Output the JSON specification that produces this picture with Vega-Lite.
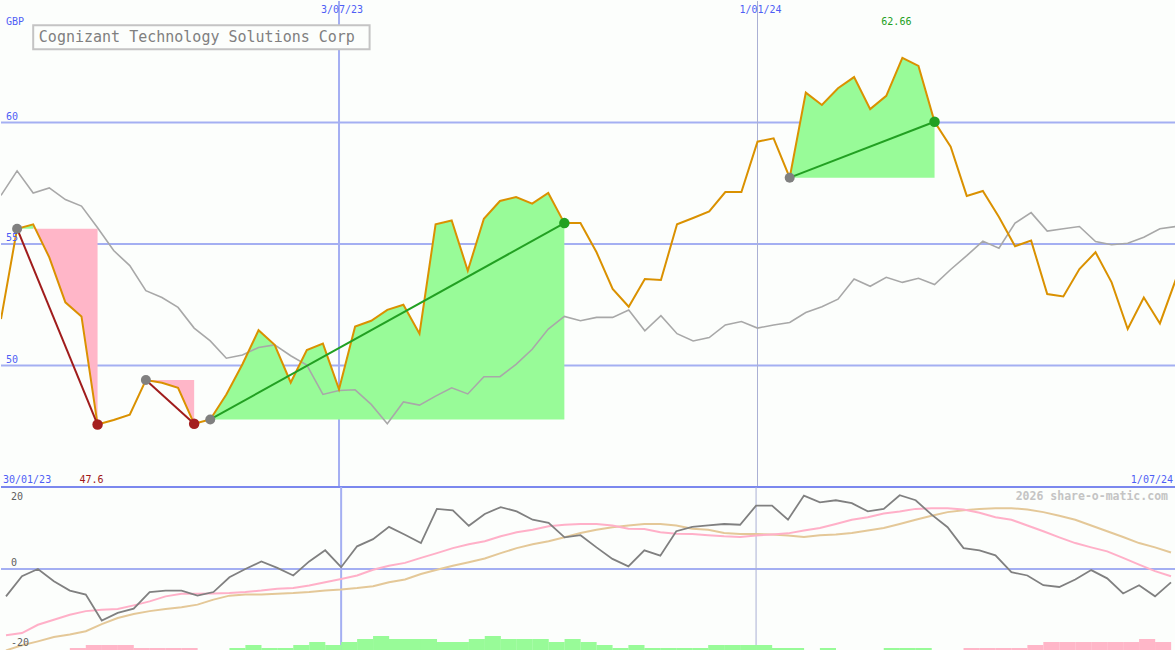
{
  "$schema": "https://vega.github.io/schema/vega-lite/v6.json",
  "background": "#fcfefc",
  "padding": 0,
  "spacing": 0,
  "bounds": "flush",
  "config": {"view": {"stroke": null}, "text": {"font": "DejaVu Sans Mono"}},
  "datasets": {
    "wk": [
      {"w":0,"p":51.91,"r":57.0,"o":-7.6,"m1":-18.4,"m2":-22.6,"vol":0,"dir":""},
      {"w":1,"p":55.63,"r":58.01,"o":-2.0,"m1":-17.8,"m2":-21.2,"vol":0,"dir":""},
      {"w":2,"p":55.81,"r":57.1,"o":0,"m1":-15.5,"m2":-20.1,"vol":0,"dir":""},
      {"w":3,"p":54.45,"r":57.31,"o":-3.4,"m1":-14.1,"m2":-18.9,"vol":0,"dir":""},
      {"w":4,"p":52.6,"r":56.83,"o":-6.0,"m1":-12.7,"m2":-18.2,"vol":1,"dir":"dn"},
      {"w":5,"p":52.02,"r":56.56,"o":-7.1,"m1":-11.7,"m2":-17.3,"vol":2,"dir":"dn"},
      {"w":6,"p":47.57,"r":55.67,"o":-14.3,"m1":-11.3,"m2":-15.3,"vol":2,"dir":"dn"},
      {"w":7,"p":47.76,"r":54.73,"o":-12.2,"m1":-11.1,"m2":-13.6,"vol":2,"dir":"dn"},
      {"w":8,"p":47.98,"r":54.11,"o":-11.0,"m1":-10.1,"m2":-12.5,"vol":1,"dir":"dn"},
      {"w":9,"p":49.4,"r":53.08,"o":-6.4,"m1":-9.0,"m2":-11.7,"vol":1,"dir":"dn"},
      {"w":10,"p":49.29,"r":52.8,"o":-6.0,"m1":-7.6,"m2":-11.1,"vol":1,"dir":"dn"},
      {"w":11,"p":49.08,"r":52.39,"o":-6.0,"m1":-6.9,"m2":-10.6,"vol":1,"dir":"dn"},
      {"w":12,"p":47.6,"r":51.54,"o":-7.4,"m1":-6.9,"m2":-9.9,"vol":0,"dir":""},
      {"w":13,"p":47.78,"r":51.01,"o":-6.4,"m1":-6.8,"m2":-8.5,"vol":0,"dir":""},
      {"w":14,"p":48.81,"r":50.3,"o":-2.3,"m1":-6.7,"m2":-7.4,"vol":1,"dir":"up"},
      {"w":15,"p":50.05,"r":50.43,"o":0,"m1":-6.4,"m2":-7.1,"vol":2,"dir":"up"},
      {"w":16,"p":51.45,"r":50.74,"o":2.1,"m1":-6.0,"m2":-7.1,"vol":1,"dir":"up"},
      {"w":17,"p":50.85,"r":50.85,"o":0.3,"m1":-5.5,"m2":-6.9,"vol":1,"dir":"up"},
      {"w":18,"p":49.3,"r":50.4,"o":-1.8,"m1":-5.3,"m2":-6.7,"vol":2,"dir":"up"},
      {"w":19,"p":50.64,"r":50.02,"o":2.1,"m1":-4.6,"m2":-6.4,"vol":3,"dir":"up"},
      {"w":20,"p":50.9,"r":48.81,"o":5.2,"m1":-3.7,"m2":-6.0,"vol":2,"dir":"up"},
      {"w":21,"p":49.02,"r":48.97,"o":0.5,"m1":-2.8,"m2":-5.7,"vol":3,"dir":"up"},
      {"w":22,"p":51.6,"r":49.0,"o":6.3,"m1":-1.8,"m2":-5.3,"vol":4,"dir":"up"},
      {"w":23,"p":51.84,"r":48.4,"o":8.3,"m1":-0.2,"m2":-4.8,"vol":5,"dir":"up"},
      {"w":24,"p":52.29,"r":47.6,"o":11.7,"m1":0.9,"m2":-3.7,"vol":4,"dir":"up"},
      {"w":25,"p":52.5,"r":48.5,"o":9.5,"m1":1.7,"m2":-2.9,"vol":4,"dir":"up"},
      {"w":26,"p":51.31,"r":48.37,"o":7.2,"m1":3.1,"m2":-1.4,"vol":4,"dir":"up"},
      {"w":27,"p":55.81,"r":48.74,"o":16.7,"m1":4.4,"m2":-0.2,"vol":3,"dir":"up"},
      {"w":28,"p":55.97,"r":49.08,"o":16.3,"m1":5.8,"m2":0.9,"vol":3,"dir":"up"},
      {"w":29,"p":53.9,"r":48.83,"o":12.0,"m1":6.9,"m2":1.9,"vol":4,"dir":"up"},
      {"w":30,"p":56.04,"r":49.54,"o":15.3,"m1":7.7,"m2":2.9,"vol":5,"dir":"up"},
      {"w":31,"p":56.77,"r":49.54,"o":17.2,"m1":9.1,"m2":4.4,"vol":4,"dir":"up"},
      {"w":32,"p":56.93,"r":50.05,"o":16.0,"m1":10.2,"m2":5.8,"vol":4,"dir":"up"},
      {"w":33,"p":56.66,"r":50.67,"o":13.7,"m1":10.9,"m2":6.9,"vol":4,"dir":"up"},
      {"w":34,"p":57.1,"r":51.5,"o":12.8,"m1":11.9,"m2":7.7,"vol":3,"dir":"up"},
      {"w":35,"p":55.86,"r":52.02,"o":8.8,"m1":12.3,"m2":8.8,"vol":4,"dir":"up"},
      {"w":36,"p":55.86,"r":51.84,"o":9.4,"m1":12.5,"m2":10.0,"vol":3,"dir":"up"},
      {"w":37,"p":54.66,"r":51.98,"o":6.0,"m1":12.5,"m2":10.9,"vol":2,"dir":"up"},
      {"w":38,"p":53.15,"r":51.98,"o":2.8,"m1":12.1,"m2":11.6,"vol":1,"dir":"up"},
      {"w":39,"p":52.42,"r":52.28,"o":0.75,"m1":11.2,"m2":12.1,"vol":2,"dir":"up"},
      {"w":40,"p":53.56,"r":51.43,"o":5.2,"m1":11.1,"m2":12.5,"vol":1,"dir":"up"},
      {"w":41,"p":53.52,"r":52.05,"o":3.7,"m1":10.2,"m2":12.5,"vol":1,"dir":"up"},
      {"w":42,"p":55.81,"r":51.31,"o":10.5,"m1":9.8,"m2":12.1,"vol":1,"dir":"up"},
      {"w":43,"p":56.07,"r":51.01,"o":11.7,"m1":9.7,"m2":11.2,"vol":1,"dir":"up"},
      {"w":44,"p":56.34,"r":51.15,"o":12.1,"m1":9.4,"m2":10.9,"vol":2,"dir":"up"},
      {"w":45,"p":57.14,"r":51.67,"o":12.5,"m1":9.1,"m2":10.0,"vol":2,"dir":"up"},
      {"w":46,"p":57.14,"r":51.81,"o":12.3,"m1":8.9,"m2":9.7,"vol":2,"dir":"up"},
      {"w":47,"p":59.21,"r":51.54,"o":17.6,"m1":9.3,"m2":9.7,"vol":2,"dir":"up"},
      {"w":48,"p":59.35,"r":51.67,"o":17.6,"m1":9.6,"m2":9.6,"vol":1,"dir":"up"},
      {"w":49,"p":57.73,"r":51.77,"o":13.7,"m1":9.9,"m2":9.3,"vol":1,"dir":"up"},
      {"w":50,"p":61.23,"r":52.18,"o":20.4,"m1":10.7,"m2":8.9,"vol":0,"dir":""},
      {"w":51,"p":60.72,"r":52.42,"o":18.5,"m1":11.4,"m2":9.4,"vol":1,"dir":"up"},
      {"w":52,"p":61.41,"r":52.73,"o":19.1,"m1":12.5,"m2":9.6,"vol":0,"dir":""},
      {"w":53,"p":61.87,"r":53.56,"o":18.3,"m1":13.7,"m2":10.0,"vol":0,"dir":""},
      {"w":54,"p":60.55,"r":53.26,"o":16.0,"m1":14.4,"m2":10.7,"vol":0,"dir":""},
      {"w":55,"p":61.1,"r":53.63,"o":16.7,"m1":15.4,"m2":11.4,"vol":1,"dir":"up"},
      {"w":56,"p":62.66,"r":53.42,"o":20.5,"m1":16.0,"m2":12.5,"vol":1,"dir":"up"},
      {"w":57,"p":62.33,"r":53.59,"o":19.1,"m1":16.7,"m2":13.7,"vol":1,"dir":"up"},
      {"w":58,"p":60.03,"r":53.33,"o":15.1,"m1":16.9,"m2":14.8,"vol":0,"dir":""},
      {"w":59,"p":59.0,"r":53.95,"o":11.6,"m1":16.9,"m2":15.8,"vol":0,"dir":""},
      {"w":60,"p":56.98,"r":54.52,"o":5.8,"m1":16.5,"m2":16.3,"vol":1,"dir":"dn"},
      {"w":61,"p":57.18,"r":55.12,"o":5.2,"m1":15.6,"m2":16.7,"vol":1,"dir":"dn"},
      {"w":62,"p":56.11,"r":54.83,"o":3.8,"m1":14.4,"m2":16.9,"vol":1,"dir":"dn"},
      {"w":63,"p":54.91,"r":55.86,"o":-0.9,"m1":13.7,"m2":16.9,"vol":1,"dir":"dn"},
      {"w":64,"p":55.14,"r":56.29,"o":-1.8,"m1":12.1,"m2":16.5,"vol":2,"dir":"dn"},
      {"w":65,"p":52.94,"r":55.53,"o":-4.5,"m1":10.5,"m2":15.8,"vol":3,"dir":"dn"},
      {"w":66,"p":52.84,"r":55.63,"o":-5.0,"m1":8.8,"m2":14.8,"vol":3,"dir":"dn"},
      {"w":67,"p":53.97,"r":55.72,"o":-2.9,"m1":7.2,"m2":13.7,"vol":3,"dir":"dn"},
      {"w":68,"p":54.66,"r":55.1,"o":-0.3,"m1":6.0,"m2":12.1,"vol":3,"dir":"dn"},
      {"w":69,"p":53.42,"r":54.97,"o":-2.6,"m1":4.9,"m2":10.5,"vol":3,"dir":"dn"},
      {"w":70,"p":51.5,"r":55.03,"o":-6.8,"m1":3.1,"m2":8.9,"vol":3,"dir":"dn"},
      {"w":71,"p":52.8,"r":55.28,"o":-4.5,"m1":1.2,"m2":7.2,"vol":4,"dir":"dn"},
      {"w":72,"p":51.73,"r":55.63,"o":-7.6,"m1":-0.6,"m2":6.0,"vol":3,"dir":"dn"},
      {"w":73,"p":53.56,"r":55.72,"o":-3.7,"m1":-2.0,"m2":4.6,"vol":0,"dir":""}
    ],
    "fill": [
      {"g":"a","k":"gain","w":1,"p":55.63,"b":55.63},
      {"g":"a","k":"gain","w":2,"p":55.81,"b":55.63},
      {"g":"b","k":"loss","w":2,"p":55.81,"b":55.63},
      {"g":"b","k":"loss","w":3,"p":54.45,"b":55.63},
      {"g":"b","k":"loss","w":4,"p":52.6,"b":55.63},
      {"g":"b","k":"loss","w":5,"p":52.02,"b":55.63},
      {"g":"b","k":"loss","w":6,"p":47.57,"b":55.63},
      {"g":"c","k":"loss","w":9,"p":49.4,"b":49.4},
      {"g":"c","k":"loss","w":10,"p":49.29,"b":49.4},
      {"g":"c","k":"loss","w":11,"p":49.08,"b":49.4},
      {"g":"c","k":"loss","w":12,"p":47.6,"b":49.4},
      {"g":"d","k":"gain","w":13,"p":47.78,"b":47.78},
      {"g":"d","k":"gain","w":14,"p":48.81,"b":47.78},
      {"g":"d","k":"gain","w":15,"p":50.05,"b":47.78},
      {"g":"d","k":"gain","w":16,"p":51.45,"b":47.78},
      {"g":"d","k":"gain","w":17,"p":50.85,"b":47.78},
      {"g":"d","k":"gain","w":18,"p":49.3,"b":47.78},
      {"g":"d","k":"gain","w":19,"p":50.64,"b":47.78},
      {"g":"d","k":"gain","w":20,"p":50.9,"b":47.78},
      {"g":"d","k":"gain","w":21,"p":49.02,"b":47.78},
      {"g":"d","k":"gain","w":22,"p":51.6,"b":47.78},
      {"g":"d","k":"gain","w":23,"p":51.84,"b":47.78},
      {"g":"d","k":"gain","w":24,"p":52.29,"b":47.78},
      {"g":"d","k":"gain","w":25,"p":52.5,"b":47.78},
      {"g":"d","k":"gain","w":26,"p":51.31,"b":47.78},
      {"g":"d","k":"gain","w":27,"p":55.81,"b":47.78},
      {"g":"d","k":"gain","w":28,"p":55.97,"b":47.78},
      {"g":"d","k":"gain","w":29,"p":53.9,"b":47.78},
      {"g":"d","k":"gain","w":30,"p":56.04,"b":47.78},
      {"g":"d","k":"gain","w":31,"p":56.77,"b":47.78},
      {"g":"d","k":"gain","w":32,"p":56.93,"b":47.78},
      {"g":"d","k":"gain","w":33,"p":56.66,"b":47.78},
      {"g":"d","k":"gain","w":34,"p":57.1,"b":47.78},
      {"g":"d","k":"gain","w":35,"p":55.86,"b":47.78},
      {"g":"e","k":"gain","w":49,"p":57.73,"b":57.73},
      {"g":"e","k":"gain","w":50,"p":61.23,"b":57.73},
      {"g":"e","k":"gain","w":51,"p":60.72,"b":57.73},
      {"g":"e","k":"gain","w":52,"p":61.41,"b":57.73},
      {"g":"e","k":"gain","w":53,"p":61.87,"b":57.73},
      {"g":"e","k":"gain","w":54,"p":60.55,"b":57.73},
      {"g":"e","k":"gain","w":55,"p":61.1,"b":57.73},
      {"g":"e","k":"gain","w":56,"p":62.66,"b":57.73},
      {"g":"e","k":"gain","w":57,"p":62.33,"b":57.73},
      {"g":"e","k":"gain","w":58,"p":60.03,"b":57.73}
    ],
    "tr": [
      {"g":1,"k":"loss","role":"start","w":1,"p":55.63},
      {"g":1,"k":"loss","role":"end","w":6,"p":47.57},
      {"g":2,"k":"loss","role":"start","w":9,"p":49.4},
      {"g":2,"k":"loss","role":"end","w":12,"p":47.6},
      {"g":3,"k":"gain","role":"start","w":13,"p":47.78},
      {"g":3,"k":"gain","role":"end","w":35,"p":55.86},
      {"g":4,"k":"gain","role":"start","w":49,"p":57.73},
      {"g":4,"k":"gain","role":"end","w":58,"p":60.03}
    ]
  },
  "vconcat": [
    {
      "width": 1175,
      "height": 486,
      "layer": [
        {
          "data": {"values": [{"v":50},{"v":55},{"v":60}]},
          "mark": {"type": "rule", "color": "#a4aff2", "strokeWidth": 2},
          "encoding": {"y": {"field": "v", "type": "quantitative", "scale": {"domain": [45, 65], "nice": false, "zero": false}, "axis": null}}
        },
        {
          "data": {"values": [{"w":21}]},
          "mark": {"type": "rule", "color": "#a4aff2", "strokeWidth": 2},
          "encoding": {"x": {"field": "w", "type": "quantitative", "scale": {"domain": [0, 73], "nice": false, "zero": false}, "axis": null}}
        },
        {
          "data": {"values": [{"w":47}]},
          "mark": {"type": "rule", "color": "#aab0d4", "strokeWidth": 1},
          "encoding": {"x": {"field": "w", "type": "quantitative", "scale": {"domain": [0, 73], "nice": false, "zero": false}, "axis": null}}
        },
        {
          "data": {"name": "fill"},
          "transform": [{"filter": "datum.k == 'gain'"}],
          "mark": {"type": "area", "color": "#98fb98", "opacity": 1, "clip": true},
          "encoding": {
            "x": {"field": "w", "type": "quantitative", "scale": {"domain": [0, 73], "nice": false, "zero": false}, "axis": null},
            "y": {"field": "p", "type": "quantitative", "scale": {"domain": [45, 65], "nice": false, "zero": false}, "axis": null},
            "y2": {"field": "b"},
            "detail": {"field": "g"}
          }
        },
        {
          "data": {"name": "fill"},
          "transform": [{"filter": "datum.k == 'loss'"}],
          "mark": {"type": "area", "color": "#ffb6c8", "opacity": 1, "clip": true},
          "encoding": {
            "x": {"field": "w", "type": "quantitative", "scale": {"domain": [0, 73], "nice": false, "zero": false}, "axis": null},
            "y": {"field": "p", "type": "quantitative", "scale": {"domain": [45, 65], "nice": false, "zero": false}, "axis": null},
            "y2": {"field": "b"},
            "detail": {"field": "g"}
          }
        },
        {
          "data": {"values": [{"v":45}]},
          "mark": {"type": "rule", "color": "#7b88ee", "strokeWidth": 2},
          "encoding": {"y": {"field": "v", "type": "quantitative", "scale": {"domain": [45, 65], "nice": false, "zero": false}, "axis": null}}
        },
        {
          "data": {"name": "wk"},
          "mark": {"type": "line", "color": "#a8a8a8", "strokeWidth": 1.6, "clip": true},
          "encoding": {
            "x": {"field": "w", "type": "quantitative", "scale": {"domain": [0, 73], "nice": false, "zero": false}, "axis": null},
            "y": {"field": "r", "type": "quantitative", "scale": {"domain": [45, 65], "nice": false, "zero": false}, "axis": null}
          }
        },
        {
          "data": {"name": "wk"},
          "mark": {"type": "line", "color": "#da9100", "strokeWidth": 2, "clip": true},
          "encoding": {
            "x": {"field": "w", "type": "quantitative", "scale": {"domain": [0, 73], "nice": false, "zero": false}, "axis": null},
            "y": {"field": "p", "type": "quantitative", "scale": {"domain": [45, 65], "nice": false, "zero": false}, "axis": null}
          }
        },
        {
          "data": {"name": "tr"},
          "transform": [{"filter": "datum.k == 'loss'"}],
          "mark": {"type": "line", "color": "#a01c1c", "strokeWidth": 2},
          "encoding": {
            "x": {"field": "w", "type": "quantitative", "scale": {"domain": [0, 73], "nice": false, "zero": false}, "axis": null},
            "y": {"field": "p", "type": "quantitative", "scale": {"domain": [45, 65], "nice": false, "zero": false}, "axis": null},
            "detail": {"field": "g"}
          }
        },
        {
          "data": {"name": "tr"},
          "transform": [{"filter": "datum.k == 'gain'"}],
          "mark": {"type": "line", "color": "#22a022", "strokeWidth": 2},
          "encoding": {
            "x": {"field": "w", "type": "quantitative", "scale": {"domain": [0, 73], "nice": false, "zero": false}, "axis": null},
            "y": {"field": "p", "type": "quantitative", "scale": {"domain": [45, 65], "nice": false, "zero": false}, "axis": null},
            "detail": {"field": "g"}
          }
        },
        {
          "data": {"name": "tr"},
          "transform": [{"filter": "datum.role == 'start'"}],
          "mark": {"type": "circle", "color": "#808080", "size": 100, "opacity": 1},
          "encoding": {
            "x": {"field": "w", "type": "quantitative", "scale": {"domain": [0, 73], "nice": false, "zero": false}, "axis": null},
            "y": {"field": "p", "type": "quantitative", "scale": {"domain": [45, 65], "nice": false, "zero": false}, "axis": null}
          }
        },
        {
          "data": {"name": "tr"},
          "transform": [{"filter": "datum.role == 'end' && datum.k == 'loss'"}],
          "mark": {"type": "circle", "color": "#a52020", "size": 110, "opacity": 1},
          "encoding": {
            "x": {"field": "w", "type": "quantitative", "scale": {"domain": [0, 73], "nice": false, "zero": false}, "axis": null},
            "y": {"field": "p", "type": "quantitative", "scale": {"domain": [45, 65], "nice": false, "zero": false}, "axis": null}
          }
        },
        {
          "data": {"name": "tr"},
          "transform": [{"filter": "datum.role == 'end' && datum.k == 'gain'"}],
          "mark": {"type": "circle", "color": "#22a022", "size": 110, "opacity": 1},
          "encoding": {
            "x": {"field": "w", "type": "quantitative", "scale": {"domain": [0, 73], "nice": false, "zero": false}, "axis": null},
            "y": {"field": "p", "type": "quantitative", "scale": {"domain": [45, 65], "nice": false, "zero": false}, "axis": null}
          }
        },
        {
          "data": {"values": [{"v":50,"t":"50"},{"v":55,"t":"55"},{"v":60,"t":"60"}]},
          "mark": {"type": "text", "color": "#4f5ef5", "fontSize": 10, "align": "left", "baseline": "alphabetic", "dx": 5, "dy": -3},
          "encoding": {
            "x": {"datum": 0, "type": "quantitative", "scale": {"domain": [0, 73], "nice": false, "zero": false}, "axis": null},
            "y": {"field": "v", "type": "quantitative", "scale": {"domain": [45, 65], "nice": false, "zero": false}, "axis": null},
            "text": {"field": "t"}
          }
        },
        {
          "data": {"values": [{"t":"GBP"}]},
          "mark": {"type": "text", "color": "#4f5ef5", "fontSize": 10, "align": "left", "baseline": "middle", "dx": 5, "dy": 21},
          "encoding": {
            "x": {"datum": 0, "type": "quantitative", "scale": {"domain": [0, 73], "nice": false, "zero": false}, "axis": null},
            "y": {"datum": 65, "type": "quantitative", "scale": {"domain": [45, 65], "nice": false, "zero": false}, "axis": null},
            "text": {"field": "t"}
          }
        },
        {
          "data": {"values": [{"w":21,"t":"3/07/23"},{"w":47,"t":"1/01/24"}]},
          "mark": {"type": "text", "color": "#4f5ef5", "fontSize": 10, "align": "center", "baseline": "middle", "dx": 3, "dy": 9},
          "encoding": {
            "x": {"field": "w", "type": "quantitative", "scale": {"domain": [0, 73], "nice": false, "zero": false}, "axis": null},
            "y": {"datum": 65, "type": "quantitative", "scale": {"domain": [45, 65], "nice": false, "zero": false}, "axis": null},
            "text": {"field": "t"}
          }
        },
        {
          "data": {"values": [{"w":0,"t":"30/01/23"}]},
          "mark": {"type": "text", "color": "#4f5ef5", "fontSize": 10, "align": "left", "baseline": "middle", "dx": 2, "dy": -7},
          "encoding": {
            "x": {"field": "w", "type": "quantitative", "scale": {"domain": [0, 73], "nice": false, "zero": false}, "axis": null},
            "y": {"datum": 45, "type": "quantitative", "scale": {"domain": [45, 65], "nice": false, "zero": false}, "axis": null},
            "text": {"field": "t"}
          }
        },
        {
          "data": {"values": [{"w":73,"t":"1/07/24"}]},
          "mark": {"type": "text", "color": "#4f5ef5", "fontSize": 10, "align": "right", "baseline": "middle", "dx": -3, "dy": -7},
          "encoding": {
            "x": {"field": "w", "type": "quantitative", "scale": {"domain": [0, 73], "nice": false, "zero": false}, "axis": null},
            "y": {"datum": 45, "type": "quantitative", "scale": {"domain": [45, 65], "nice": false, "zero": false}, "axis": null},
            "text": {"field": "t"}
          }
        },
        {
          "data": {"values": [{"w":6,"t":"47.6"}]},
          "mark": {"type": "text", "color": "#a01818", "fontSize": 10, "align": "center", "baseline": "middle", "dx": -6, "dy": -7},
          "encoding": {
            "x": {"field": "w", "type": "quantitative", "scale": {"domain": [0, 73], "nice": false, "zero": false}, "axis": null},
            "y": {"datum": 45, "type": "quantitative", "scale": {"domain": [45, 65], "nice": false, "zero": false}, "axis": null},
            "text": {"field": "t"}
          }
        },
        {
          "data": {"values": [{"w":56,"t":"62.66"}]},
          "mark": {"type": "text", "color": "#22a022", "fontSize": 10, "align": "center", "baseline": "middle", "dx": -6, "dy": 21},
          "encoding": {
            "x": {"field": "w", "type": "quantitative", "scale": {"domain": [0, 73], "nice": false, "zero": false}, "axis": null},
            "y": {"datum": 65, "type": "quantitative", "scale": {"domain": [45, 65], "nice": false, "zero": false}, "axis": null},
            "text": {"field": "t"}
          }
        },
        {
          "data": {"values": [{}]},
          "mark": {"type": "rect", "fill": "#fcfefc", "stroke": "#c4c4c4", "strokeWidth": 2},
          "encoding": {
            "x": {"datum": 2, "type": "quantitative", "scale": {"domain": [0, 73], "nice": false, "zero": false}, "axis": null},
            "x2": {"datum": 22.9},
            "y": {"datum": 64, "type": "quantitative", "scale": {"domain": [45, 65], "nice": false, "zero": false}, "axis": null},
            "y2": {"datum": 63.01}
          }
        },
        {
          "data": {"values": [{"t":"Cognizant Technology Solutions Corp"}]},
          "mark": {"type": "text", "color": "#808080", "fontSize": 15, "align": "left", "baseline": "middle"},
          "encoding": {
            "x": {"datum": 2.35, "type": "quantitative", "scale": {"domain": [0, 73], "nice": false, "zero": false}, "axis": null},
            "y": {"datum": 63.5, "type": "quantitative", "scale": {"domain": [45, 65], "nice": false, "zero": false}, "axis": null},
            "text": {"field": "t"}
          }
        }
      ]
    },
    {
      "width": 1175,
      "height": 164,
      "resolve": {"scale": {"y": "independent"}},
      "layer": [
        {
          "data": {"values": [{"v":0}]},
          "mark": {"type": "rule", "color": "#a4aff2", "strokeWidth": 2},
          "encoding": {"y": {"field": "v", "type": "quantitative", "scale": {"domain": [-22.78, 22.78], "nice": false, "zero": false}, "axis": null}}
        },
        {
          "data": {"values": [{"w":21}]},
          "mark": {"type": "rule", "color": "#a4aff2", "strokeWidth": 2},
          "encoding": {"x": {"field": "w", "type": "quantitative", "scale": {"domain": [0, 73], "nice": false, "zero": false}, "axis": null}}
        },
        {
          "data": {"values": [{"w":47}]},
          "mark": {"type": "rule", "color": "#aab0d4", "strokeWidth": 1},
          "encoding": {"x": {"field": "w", "type": "quantitative", "scale": {"domain": [0, 73], "nice": false, "zero": false}, "axis": null}}
        },
        {
          "data": {"name": "wk"},
          "transform": [{"filter": "datum.vol > 0 && datum.dir == 'up'"}],
          "mark": {"type": "bar", "color": "#98fb98", "width": 16.1, "xOffset": 8.05},
          "encoding": {
            "x": {"field": "w", "type": "quantitative", "scale": {"domain": [0, 73], "nice": false, "zero": false}, "axis": null},
            "y": {"field": "vol", "type": "quantitative", "scale": {"domain": [0, 54.667], "nice": false, "zero": true}, "axis": null}
          }
        },
        {
          "data": {"name": "wk"},
          "transform": [{"filter": "datum.vol > 0 && datum.dir == 'dn'"}],
          "mark": {"type": "bar", "color": "#ffb6c8", "width": 16.1, "xOffset": 8.05},
          "encoding": {
            "x": {"field": "w", "type": "quantitative", "scale": {"domain": [0, 73], "nice": false, "zero": false}, "axis": null},
            "y": {"field": "vol", "type": "quantitative", "scale": {"domain": [0, 54.667], "nice": false, "zero": true}, "axis": null}
          }
        },
        {
          "data": {"name": "wk"},
          "mark": {"type": "line", "color": "#e4c898", "strokeWidth": 2, "clip": true},
          "encoding": {
            "x": {"field": "w", "type": "quantitative", "scale": {"domain": [0, 73], "nice": false, "zero": false}, "axis": null},
            "y": {"field": "m2", "type": "quantitative", "scale": {"domain": [-22.78, 22.78], "nice": false, "zero": false}, "axis": null}
          }
        },
        {
          "data": {"name": "wk"},
          "mark": {"type": "line", "color": "#ffb0c8", "strokeWidth": 2, "clip": true},
          "encoding": {
            "x": {"field": "w", "type": "quantitative", "scale": {"domain": [0, 73], "nice": false, "zero": false}, "axis": null},
            "y": {"field": "m1", "type": "quantitative", "scale": {"domain": [-22.78, 22.78], "nice": false, "zero": false}, "axis": null}
          }
        },
        {
          "data": {"name": "wk"},
          "mark": {"type": "line", "color": "#808080", "strokeWidth": 1.8, "clip": true},
          "encoding": {
            "x": {"field": "w", "type": "quantitative", "scale": {"domain": [0, 73], "nice": false, "zero": false}, "axis": null},
            "y": {"field": "o", "type": "quantitative", "scale": {"domain": [-22.78, 22.78], "nice": false, "zero": false}, "axis": null}
          }
        },
        {
          "data": {"values": [{"t":"20"}]},
          "mark": {"type": "text", "color": "#606060", "fontSize": 10, "align": "left", "baseline": "middle", "dx": 5},
          "encoding": {
            "x": {"datum": 0, "type": "quantitative", "scale": {"domain": [0, 73], "nice": false, "zero": false}, "axis": null},
            "y": {"datum": 20, "type": "quantitative", "scale": {"domain": [-22.78, 22.78], "nice": false, "zero": false}, "axis": null},
            "text": {"field": "t"}
          }
        },
        {
          "data": {"values": [{"t":"0"}]},
          "mark": {"type": "text", "color": "#606060", "fontSize": 10, "align": "left", "baseline": "middle", "dx": 5, "dy": -6},
          "encoding": {
            "x": {"datum": 0, "type": "quantitative", "scale": {"domain": [0, 73], "nice": false, "zero": false}, "axis": null},
            "y": {"datum": 0, "type": "quantitative", "scale": {"domain": [-22.78, 22.78], "nice": false, "zero": false}, "axis": null},
            "text": {"field": "t"}
          }
        },
        {
          "data": {"values": [{"t":"-20"}]},
          "mark": {"type": "text", "color": "#606060", "fontSize": 10, "align": "left", "baseline": "middle", "dx": 5, "dy": 2},
          "encoding": {
            "x": {"datum": 0, "type": "quantitative", "scale": {"domain": [0, 73], "nice": false, "zero": false}, "axis": null},
            "y": {"datum": -20, "type": "quantitative", "scale": {"domain": [-22.78, 22.78], "nice": false, "zero": false}, "axis": null},
            "text": {"field": "t"}
          }
        },
        {
          "data": {"values": [{"t":"2026 share-o-matic.com"}]},
          "mark": {"type": "text", "color": "#c4c4c4", "fontSize": 11.5, "fontWeight": "bold", "align": "right", "baseline": "middle", "dx": -3},
          "encoding": {
            "x": {"datum": 73, "type": "quantitative", "scale": {"domain": [0, 73], "nice": false, "zero": false}, "axis": null},
            "y": {"datum": 20, "type": "quantitative", "scale": {"domain": [-22.78, 22.78], "nice": false, "zero": false}, "axis": null},
            "text": {"field": "t"}
          }
        }
      ]
    }
  ]
}
